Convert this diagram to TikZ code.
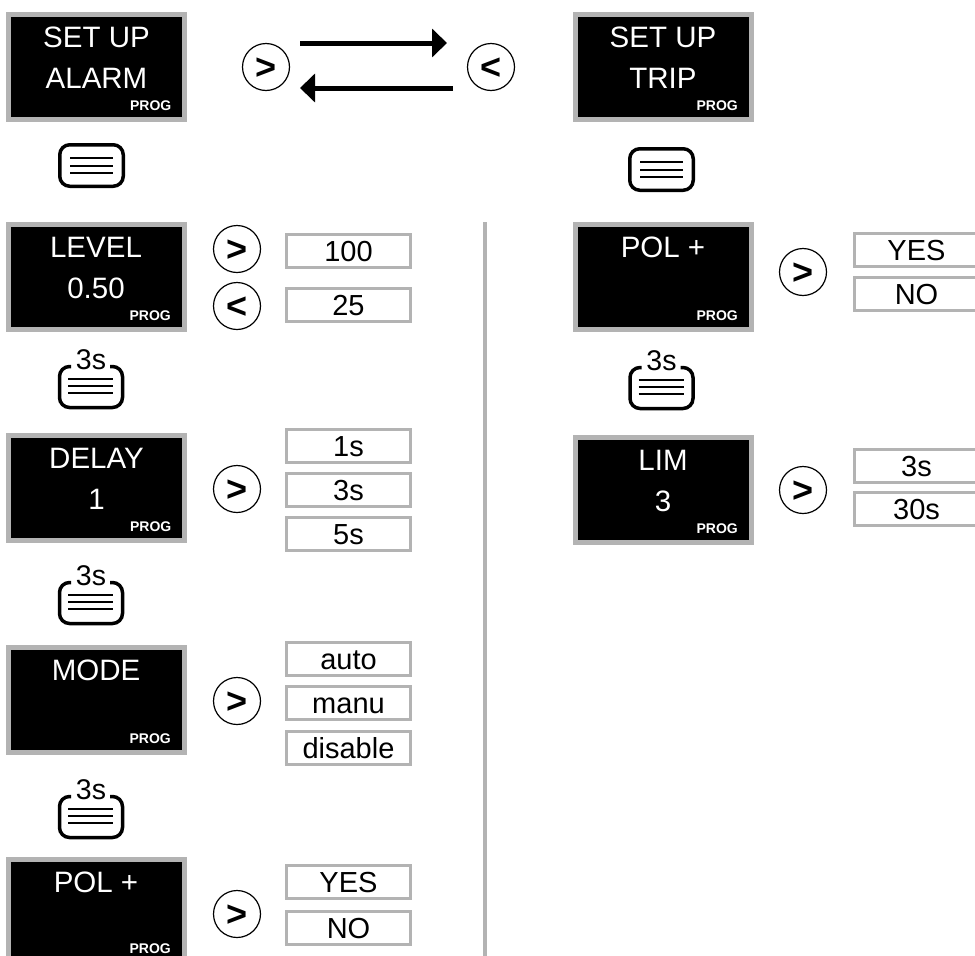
\documentclass[tikz,border=0pt]{standalone}
\usepackage{fontspec}
\setmainfont{Liberation Sans}
\usetikzlibrary{arrows.meta,calc}
\definecolor{bordergray}{HTML}{B3B3B3}
\tikzset{
  disp/.style={draw=bordergray, line width=5pt, fill=black, minimum width=176pt, minimum height=105pt, inner sep=0pt},
  dtext/.style={anchor=base, text=white, font=\fontsize{29.5}{34}\selectfont, inner sep=0pt},
  progtxt/.style={anchor=base east, text=white, font=\bfseries\fontsize{14}{16}\selectfont, inner sep=0pt},
  valbox/.style={draw=bordergray, line width=3pt, fill=white, minimum width=124pt, minimum height=33pt, text height=21pt, text depth=0pt, inner sep=0pt, font=\fontsize{29}{34}\selectfont},
  navbtn/.style={circle, draw=black, line width=1.2pt, minimum size=47pt, inner sep=0pt},
  chev/.style={anchor=base, font=\bfseries\fontsize{36}{40}\selectfont, inner sep=0pt},
  menubtn/.style={draw=black, line width=3.5pt, rounded corners=10pt, minimum width=63.5pt, minimum height=41.5pt, inner sep=0pt},
  btnframe/.style={line width=3.5pt, rounded corners=10pt},
  btnline/.style={line width=2.5pt},
  holdtxt/.style={anchor=base, font=\fontsize{28.5}{34}\selectfont, inner sep=0pt},
  bigarrow/.style={line width=5pt, -{Triangle[length=15pt,width=28pt]}},
  sepline/.style={draw=bordergray, line width=4pt}
}
\newcommand\dispbox[6]{%
  \node[disp] (#1) at (#2,#3+55) {};
  \node[dtext] (#1-a) at (#2,#3+35.5) {#4};
  \node[dtext] (#1-b) at (#2,#3+76.5) {#5};
  \node[progtxt] (#1-p) at (#2+75,#3+#6) {PROG};}
\newcommand\navbutton[4]{%
  \node[navbtn] (#1) at (#2,#3) {};
  \node[chev] (#1-c) at ([yshift=-12.8pt]#1.center) {#4};}
\newcommand\valnode[4]{\node[valbox] (#1) at (#2,#3) {#4};}
\newcommand\menuicon[3]{%
  \node[menubtn] (#1) at (#2,#3) {};
  \draw[btnline] ($(#1.center)+(-21.5,-7.5)$) -- ++(43,0);
  \draw[btnline] ($(#1.center)+(-21.5,0.5)$) -- ++(43,0);
  \draw[btnline] ($(#1.center)+(-21.5,7.5)$) -- ++(43,0);}
\newcommand\holdicon[3]{%
  \begin{scope}[shift={(#2,#3)}]
  \coordinate (#1) at (0,0);
  \draw[btnframe] (-20,1.5) -- (-31.5,1.5) -- (-31.5,42.5) -- (31.5,42.5) -- (31.5,1.5) -- (19,1.5);
  \node[holdtxt] (#1-t) at (0,4) {3s};
  \draw[btnline] (-23,14) -- (22,14);
  \draw[btnline] (-23,21) -- (22,21);
  \draw[btnline] (-23,28) -- (22,28);
  \end{scope}}
\begin{document}
\begin{tikzpicture}[x=1pt,y=-1pt]
\useasboundingbox (0,0) rectangle (975,956);
\clip (0,0) rectangle (975,956);
% display boxes
\dispbox{alarm}{96.5}{12}{SET UP}{ALARM}{98.5}
\dispbox{trip}{663}{12}{SET UP}{TRIP}{98.5}
\dispbox{level}{96}{222}{LEVEL}{0.50}{98.5}
\dispbox{delay}{96.5}{433}{DELAY}{1}{98.5}
\dispbox{mode}{96}{645}{MODE}{}{98.5}
\dispbox{polL}{96}{857}{POL +}{}{96.5}
\dispbox{polR}{663}{222}{POL +}{}{98.5}
\dispbox{lim}{663}{435}{LIM}{3}{98.5}
% navigation buttons
\navbutton{gA}{266}{67}{>}
\navbutton{lA}{491}{67}{<}
\navbutton{gL}{237}{249}{>}
\navbutton{lL}{237}{306}{<}
\navbutton{gD}{237}{489}{>}
\navbutton{gM}{237}{701}{>}
\navbutton{gP}{237}{914}{>}
\navbutton{gR}{803}{272}{>}
\navbutton{gT}{803}{490}{>}
% values
\valnode{v100}{348.5}{251}{100}
\valnode{v25}{348.5}{305}{25}
\valnode{v1s}{348.5}{445.5}{1s}
\valnode{v3s}{348.5}{489.5}{3s}
\valnode{v5s}{348.5}{533.5}{5s}
\valnode{vauto}{348.5}{658.5}{auto}
\valnode{vmanu}{348.5}{703}{manu}
\valnode{vdis}{348.5}{747.5}{disable}
\valnode{vyesL}{348.5}{881.5}{YES}
\valnode{vnoL}{348.5}{928}{NO}
\valnode{vyesR}{916.5}{250}{YES}
\valnode{vnoR}{916.5}{294}{NO}
\valnode{v3sR}{916.5}{466}{3s}
\valnode{v30sR}{916.5}{509}{30s}
% menu buttons
\menuicon{mA}{91.5}{165.5}
\menuicon{mT}{661.5}{169.5}
% hold buttons
\holdicon{hL}{91}{365}
\holdicon{hD}{91}{581}
\holdicon{hM}{91}{795}
\holdicon{hR}{661.5}{366}
% arrows
\coordinate (arTs) at (300,43);
\coordinate (arTe) at (447,43);
\coordinate (arBs) at (453,88);
\coordinate (arBe) at (300,88);
\draw[bigarrow] (arTs) -- (arTe);
\draw[bigarrow] (arBs) -- (arBe);
% separator
\coordinate (sepT) at (485,222);
\coordinate (sepB) at (485,962);
\draw[sepline] (sepT) -- (sepB);
\end{tikzpicture}
\end{document}
